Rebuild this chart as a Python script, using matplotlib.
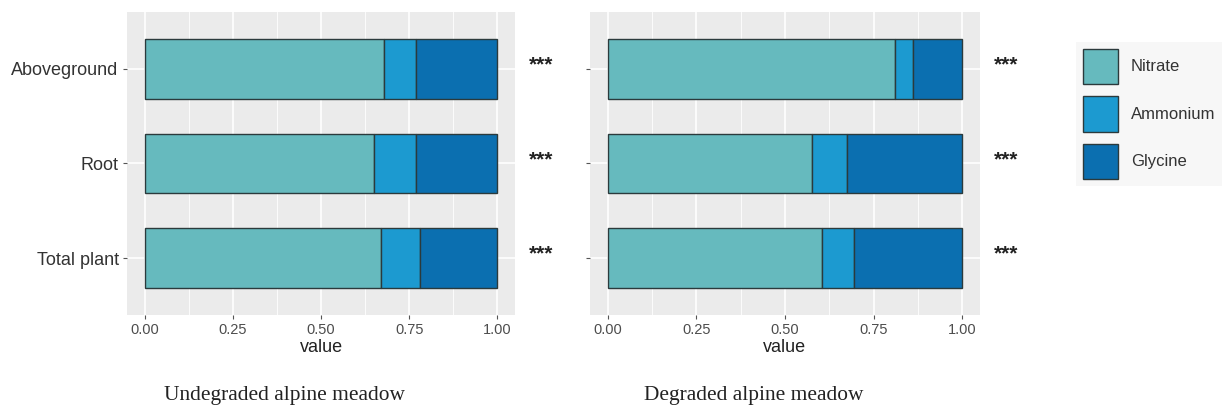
import numpy as np
import matplotlib.pyplot as plt
from matplotlib.patches import Patch
from matplotlib.ticker import MultipleLocator

# proportions
parts = ['Aboveground', 'Root', 'Total plant']
sources = ['Nitrate', 'Ammonium', 'Glycine']
colores = ['#66babe', '#1c9ad0', '#0b6fb0']

undeg_nitrate = [0.68, 0.65, 0.67]
undeg_ammonium = [0.09, 0.12, 0.11]
undeg_glycine = [0.23, 0.23, 0.22]

deg_nitrate = [0.81, 0.575, 0.605]
deg_ammonium = [0.05, 0.10, 0.09]
deg_glycine = [0.14, 0.325, 0.305]

signif = ['***', '***', '***']
titles = ['Undegraded alpine meadow', 'Degraded alpine meadow']

plt.rcParams['font.family'] = ['Liberation Sans', 'DejaVu Sans']

fig = plt.figure(figsize=(12.25, 4.17), dpi=100)
ax1 = fig.add_axes([0.1037, 0.2446, 0.3167, 0.727])
ax2 = fig.add_axes([0.4816, 0.2446, 0.3184, 0.727])


def panel(ax, nit, amm, gly, title, title_x, labels=True):
    ax.set_facecolor('#ebebeb')
    y = np.arange(len(parts))
    left = np.zeros(len(parts))
    for vals, c in zip([nit, amm, gly], colores):
        ax.barh(y, vals, left=left, height=0.63, color=c,
                edgecolor='#2b3a3c', linewidth=1.0, zorder=3)
        left = left + np.array(vals)
    ax.set_xlim(-0.05, 1.05)
    ax.set_ylim(len(parts) - 0.4, -0.6)
    ax.xaxis.set_major_locator(MultipleLocator(0.25))
    ax.xaxis.set_minor_locator(MultipleLocator(0.125))
    ax.grid(which='major', color='white', linewidth=1.2, zorder=0)
    ax.grid(which='minor', axis='x', color='white', linewidth=0.6, zorder=0)
    ax.set_axisbelow(True)
    for s in ax.spines.values():
        s.set_visible(False)
    ax.set_yticks(y)
    if labels:
        ax.set_yticklabels(parts, fontsize=13, color='#333333')
    else:
        ax.set_yticklabels([])
    ax.set_xticks([0, 0.25, 0.5, 0.75, 1.0])
    ax.set_xticklabels(['0.00', '0.25', '0.50', '0.75', '1.00'],
                       fontsize=10.5, color='#4d4d4d')
    ax.tick_params(which='major', length=3, color='#555555', pad=3)
    ax.tick_params(which='minor', length=0)
    ax.set_xlabel('value', fontsize=13, color='#222222', labelpad=1)
    for i, s in enumerate(signif):
        ax.text(1.068, i - 0.04, s, transform=ax.get_yaxis_transform(),
                ha='center', va='center', fontsize=15, fontweight='bold',
                color='#222222')
    ax.text(title_x, -0.265, title, transform=ax.transAxes, ha='center', va='center',
            fontsize=15.4, family='Liberation Serif', color='#222222')


panel(ax1, undeg_nitrate, undeg_ammonium, undeg_glycine, titles[0], 0.407)
panel(ax2, deg_nitrate, deg_ammonium, deg_glycine, titles[1], 0.42, labels=False)

handles = [Patch(facecolor=c, edgecolor='#2b3a3c', linewidth=1.0) for c in colores]
leg = fig.legend(handles, sources, loc='upper left', bbox_to_anchor=(0.8786, 0.899),
                 borderaxespad=0, fontsize=12, handlelength=2.1, handleheight=2.9,
                 labelspacing=0.72, handletextpad=0.78, borderpad=0.4,
                 frameon=True, fancybox=False)
leg.get_frame().set_facecolor('#f6f6f6')
leg.get_frame().set_edgecolor('none')
for t in leg.get_texts():
    t.set_color('#333333')

fig.savefig('out.png', dpi=100)
